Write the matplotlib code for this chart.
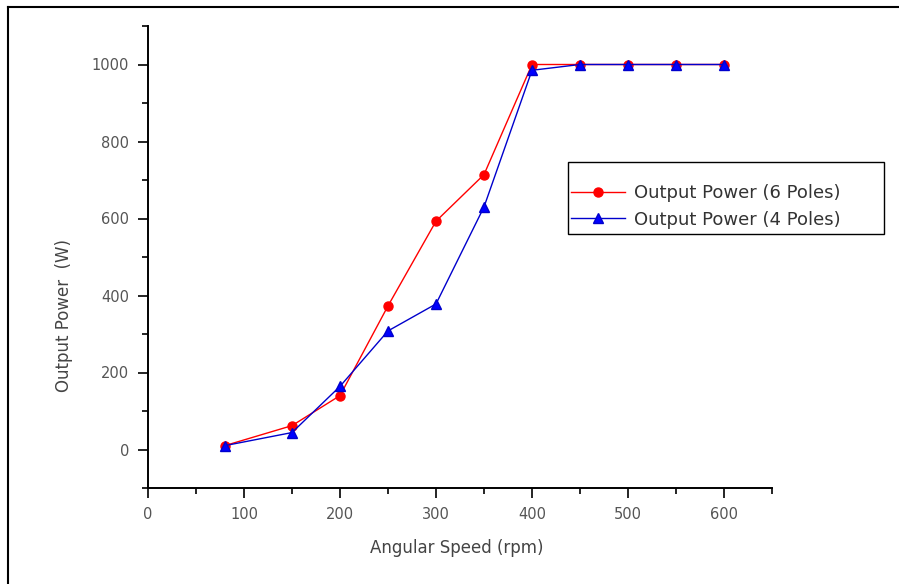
import matplotlib
matplotlib.use("Agg")
import matplotlib.pyplot as plt
from matplotlib.ticker import MultipleLocator
from matplotlib.lines import Line2D
from matplotlib.patches import Rectangle

plt.rcParams['font.family'] = ['DejaVu Sans']

speed = [80, 150, 200, 250, 300, 350, 400, 450, 500, 550, 600]
power_6p = [10, 62, 140, 373, 593, 714, 1000, 1000, 1000, 1000, 1000]
power_4p = [10, 44, 164, 308, 378, 630, 985, 1000, 1000, 1000, 1000]
label_6p = "Output Power (6 Poles)"
label_4p = "Output Power (4 Poles)"

W, H = 899, 584
fig = plt.figure(figsize=(W/100, H/100), dpi=100)
ax = fig.add_axes([148/W, 96/H, 624/W, 462/H])

ax.plot(speed, power_6p, color='#ff0000', lw=1.0, marker='o', ms=6.5,
        markerfacecolor='#ff0000', markeredgecolor='#ff0000', label=label_6p, zorder=3)
ax.plot(speed, power_4p, color='#0000cc', lw=1.0, marker='^', ms=7.5,
        markerfacecolor='#0000ff', markeredgecolor='#0000cc', label=label_4p, zorder=4)

ax.set_xlim(0, 650)
ax.set_ylim(-100, 1100)
ax.xaxis.set_major_locator(MultipleLocator(100))
ax.xaxis.set_minor_locator(MultipleLocator(50))
ax.yaxis.set_major_locator(MultipleLocator(200))
ax.yaxis.set_minor_locator(MultipleLocator(100))
for s in ['top', 'right']:
    ax.spines[s].set_visible(False)
for s in ['left', 'bottom']:
    ax.spines[s].set_linewidth(1.4)
ax.tick_params(which='major', direction='out', length=7, width=1.2, labelsize=10.5,
               labelcolor='#555555', pad=6.5)
ax.tick_params(which='minor', direction='out', length=4, width=1.2)

ax.set_xlabel("Angular Speed (rpm)", fontsize=12, color='#444444')
ax.set_ylabel("Output Power  (W)", fontsize=12, color='#444444')
ax.xaxis.set_label_coords((457 - 148) / 624, (488 - 539) / 462)
ax.yaxis.set_label_coords((73 - 148) / 624, (488 - 316) / 462)

# legend box
fig.add_artist(Rectangle((568/W, 1 - 234/H), (884-568)/W, (234-162)/H, transform=fig.transFigure,
                         fill=False, edgecolor='black', lw=1.0))
leg = ax.legend(loc='center left', bbox_to_anchor=(571/W, 1 - 206.5/H), bbox_transform=fig.transFigure,
                borderaxespad=0, borderpad=0, fontsize=13, frameon=False, handlelength=3.0,
                handletextpad=0.5, labelspacing=0.45)
for t in leg.get_texts():
    t.set_color('#333333')

# figure border (top and left visible)
fig.add_artist(Line2D([8/W, 8/W], [0, 1-7/H], transform=fig.transFigure, color='black', lw=1.5))
fig.add_artist(Line2D([8/W, 1], [1-7/H, 1-7/H], transform=fig.transFigure, color='black', lw=1.5))

fig.savefig("out.png", dpi=100)
